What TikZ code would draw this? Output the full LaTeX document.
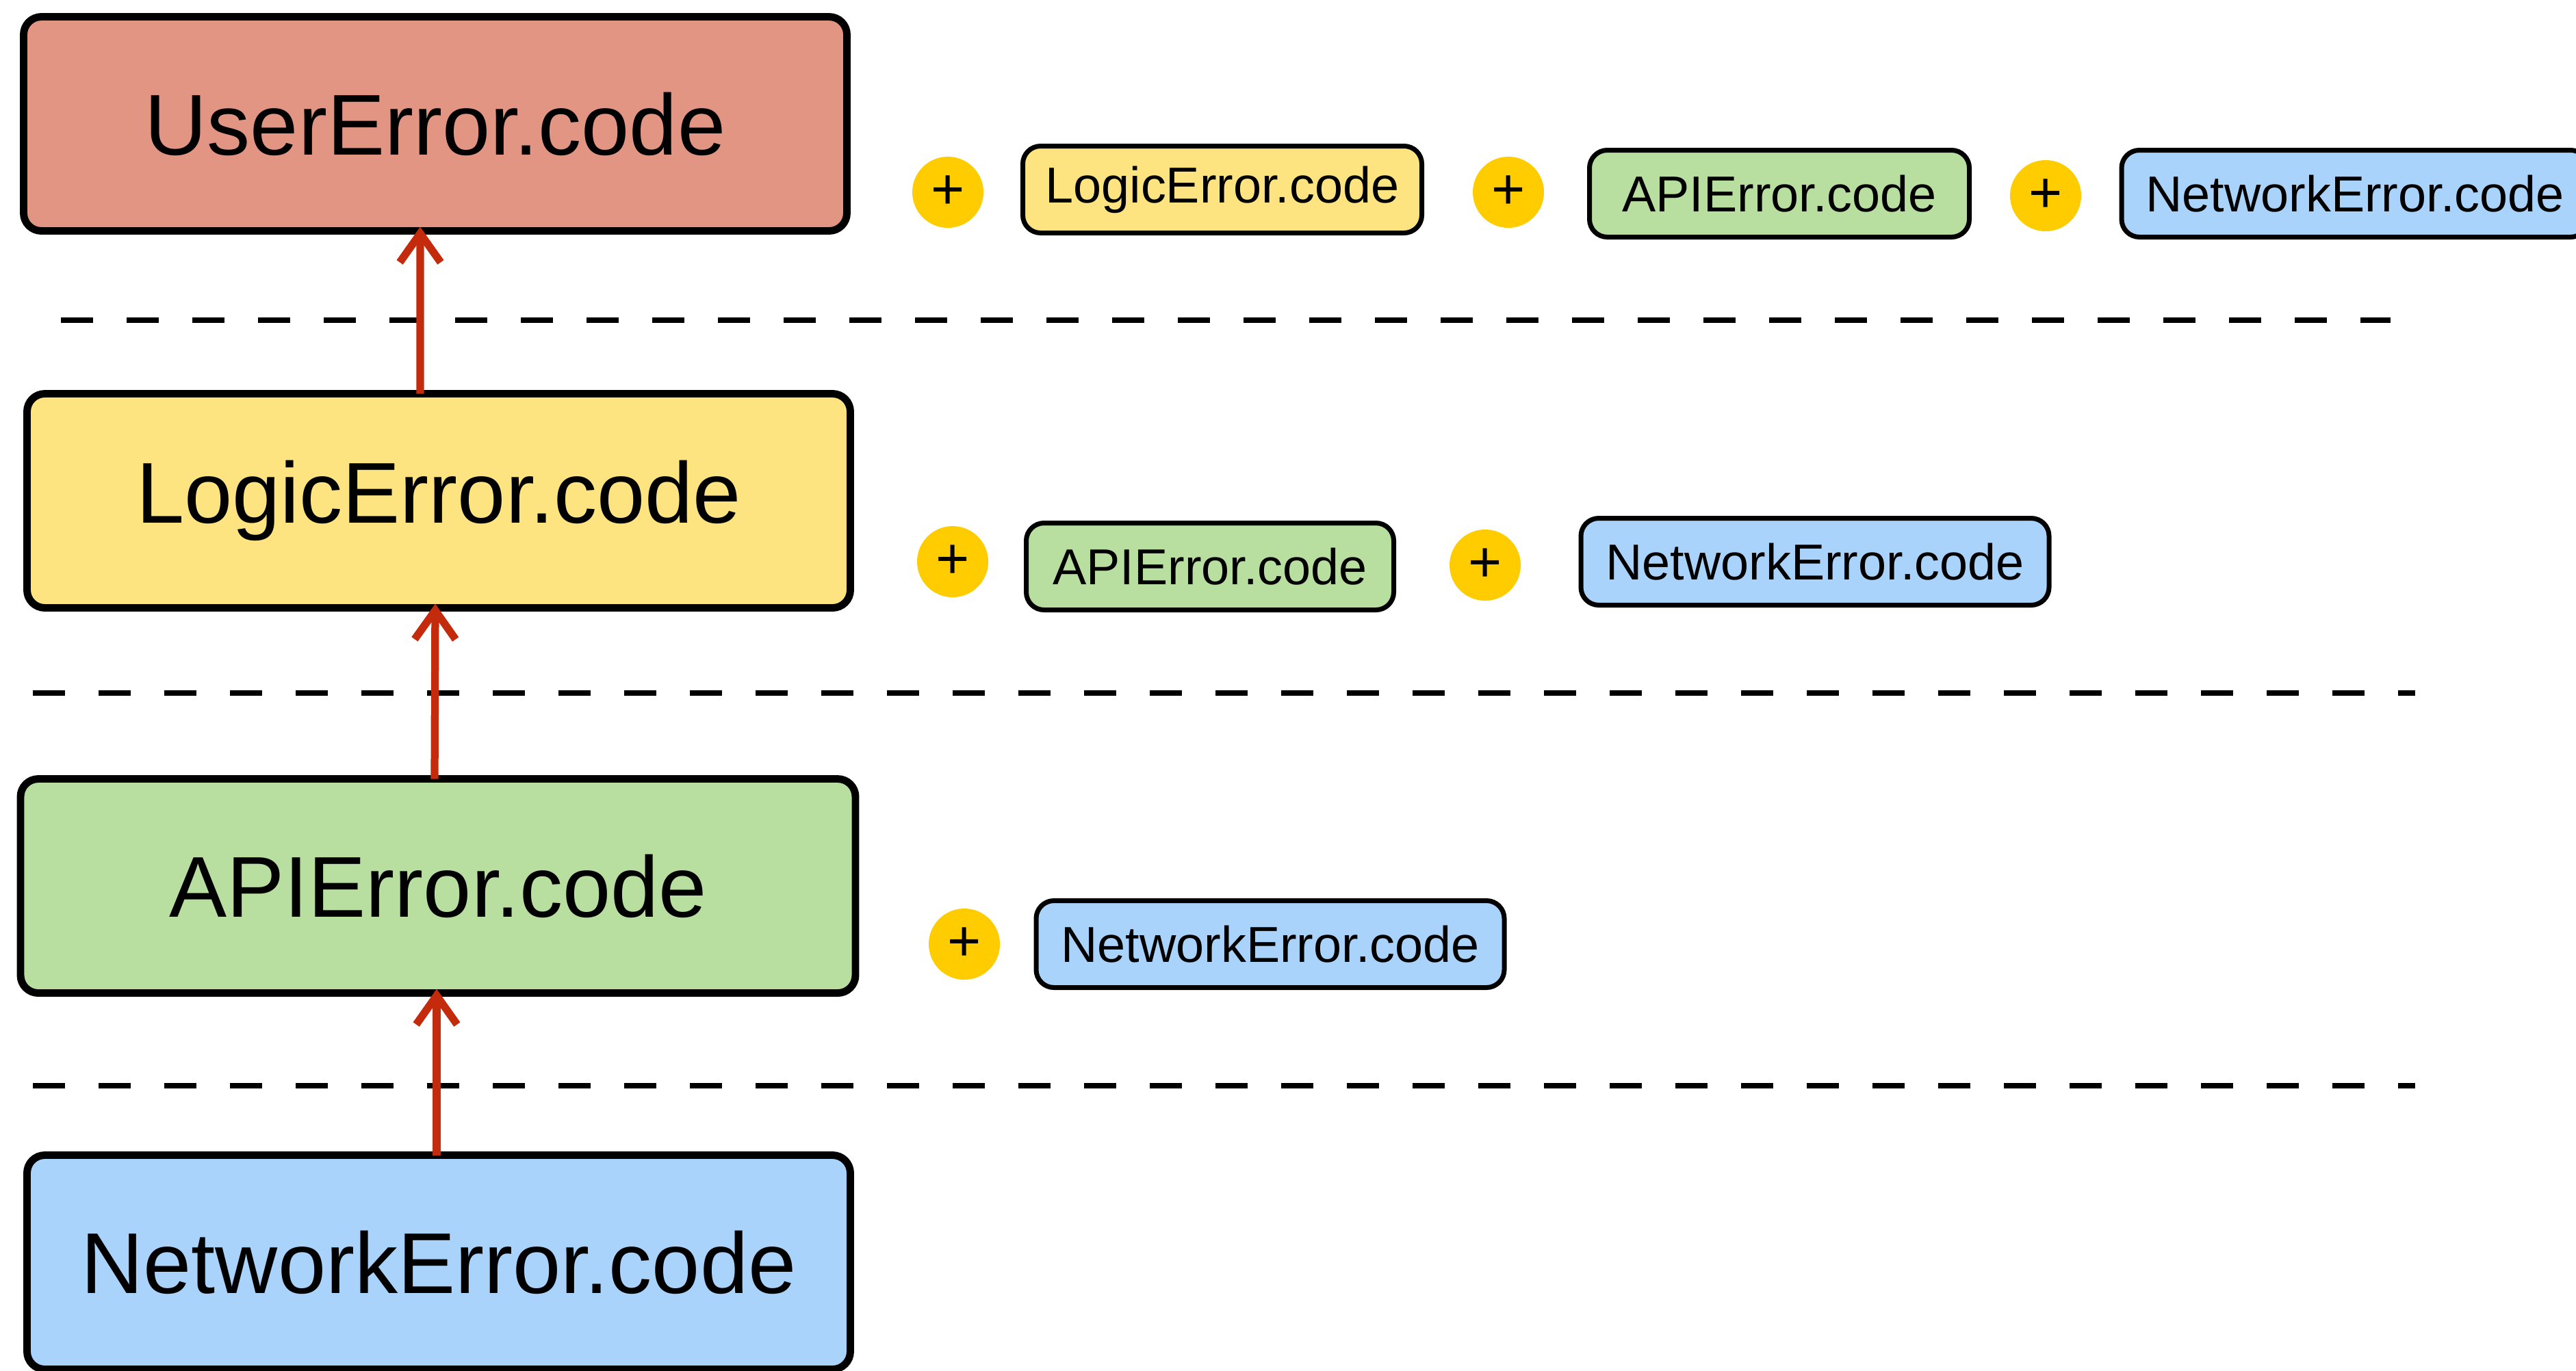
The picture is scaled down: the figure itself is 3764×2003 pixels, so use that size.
\documentclass[tikz,border=0pt]{standalone}
\usepackage{fontspec}
\setmainfont{Liberation Sans}
\usetikzlibrary{arrows.meta}

\definecolor{usercol}{HTML}{E39584}
\definecolor{logiccol}{HTML}{FDE481}
\definecolor{apicol}{HTML}{B8DFA0}
\definecolor{netcol}{HTML}{A9D3FB}
\definecolor{pluscol}{HTML}{FFCC00}
\definecolor{arrowcol}{HTML}{C42A0C}

\tikzset{
  bigbox/.style={draw=black, line width=3.1pt, rounded corners=2.6mm,
    minimum width=120.3mm, minimum height=31.3mm, inner sep=0pt, outer sep=0pt,
    font=\fontsize{35.9}{40}\selectfont},
  tagbox/.style={draw=black, line width=2pt, rounded corners=2.6mm,
    minimum height=12.7mm, inner sep=0pt, outer sep=0pt,
    font=\fontsize{21}{24}\selectfont},
  plusdot/.style={circle, fill=pluscol, minimum size=10.4mm, inner sep=0pt,
    font=\fontsize{24}{26}\selectfont},
  layerline/.style={line width=2.2pt, dash pattern=on 4.7mm off 4.9mm},
  uparrow/.style={draw=arrowcol, line width=3.2pt,
    -{Straight Barb[length=12pt, width=17pt, line width=3.2pt]}},
}

\begin{document}
\begin{tikzpicture}[x=0.1mm, y=-0.1mm]
  \useasboundingbox (0,0) rectangle (3764,2003);

  % main layer boxes
  \node[bigbox, fill=usercol] (user) at (636,181) {UserError.code};
  \node[bigbox, fill=logiccol] (logic) at (641,732) {LogicError.code};
  \node[bigbox, fill=apicol, minimum width=122mm] (api) at (640,1295) {APIError.code};
  \node[bigbox, fill=netcol] (net) at (641,1845) {NetworkError.code};

  % layer separators
  \draw[layerline] (89,468) -- (3493,468);
  \draw[layerline] (48,1013) -- (3529,1013);
  \draw[layerline] (48,1587) -- (3529,1587);

  % propagation arrows
  \draw[uparrow] ([xshift=-2.7mm]logic.north) -- ([xshift=-2.2mm,yshift=0.6mm]user.south);
  \draw[uparrow] ([xshift=-0.5mm]api.north) -- ([xshift=-0.5mm,yshift=0.6mm]logic.south);
  \draw[uparrow] ([xshift=-0.3mm]net.north) -- ([xshift=-0.2mm,yshift=0.6mm]api.south);

  % codes added at the UserError layer
  \node[plusdot] (p11) at (1385,281) {+};
  \node[tagbox, fill=logiccol, minimum width=58.3mm] (t11) at (1786,277) {LogicError.code};
  \node[plusdot] (p12) at (2204,281) {+};
  \node[tagbox, fill=apicol, minimum width=55.5mm] (t12) at (2600,283) {APIError.code};
  \node[plusdot] (p13) at (2989,286) {+};
  \node[tagbox, fill=netcol, minimum width=68.2mm] (t13) at (3441,283) {NetworkError.code};

  % codes added at the LogicError layer
  \node[plusdot] (p21) at (1392,821) {+};
  \node[tagbox, fill=apicol, minimum width=53.7mm] (t21) at (1768,828) {APIError.code};
  \node[plusdot] (p22) at (2170,826) {+};
  \node[tagbox, fill=netcol, minimum width=68.4mm] (t22) at (2652,821) {NetworkError.code};

  % codes added at the APIError layer
  \node[plusdot] (p31) at (1409,1380) {+};
  \node[tagbox, fill=netcol, minimum width=68.4mm] (t31) at (1856,1380) {NetworkError.code};
\end{tikzpicture}
\end{document}
